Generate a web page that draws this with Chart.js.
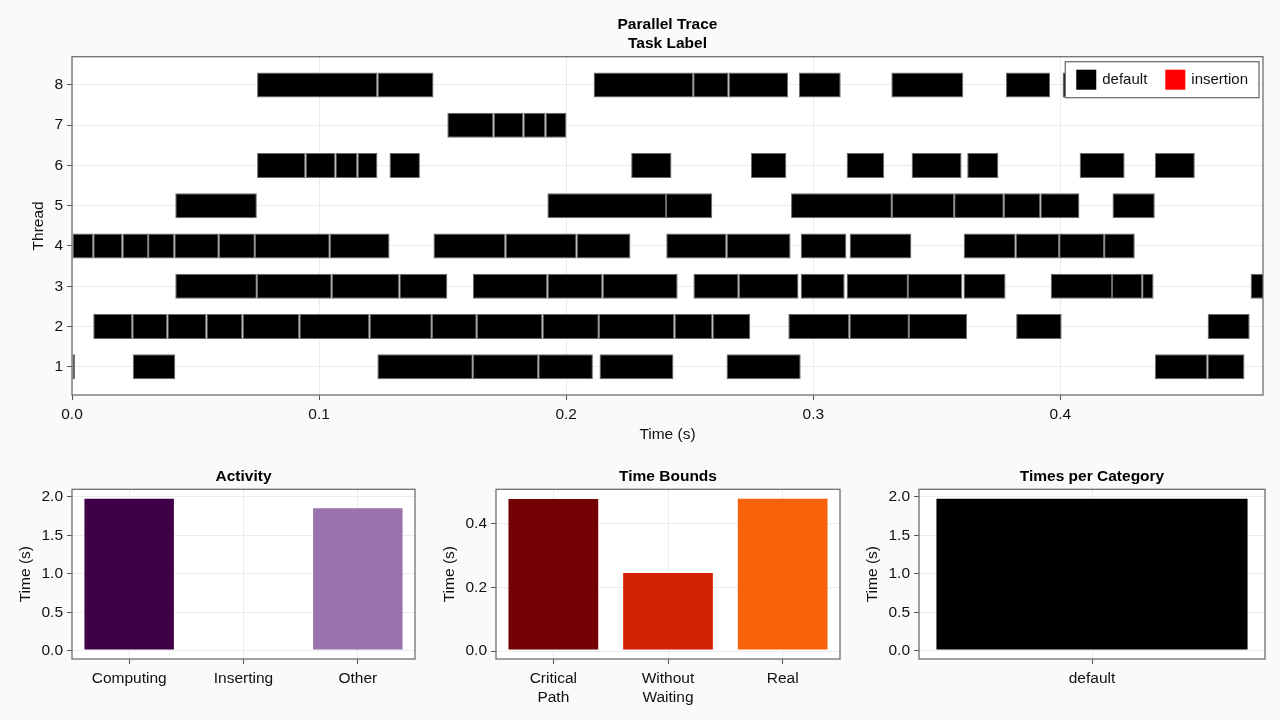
<!DOCTYPE html>
<html>
<head>
<meta charset="utf-8">
<title>Parallel Trace</title>
<script src="https://cdn.jsdelivr.net/npm/chart.js@4.4.0/dist/chart.umd.min.js"></script>
<style>
  html, body { margin: 0; padding: 0; background: #fafafa; }
  #page { position: relative; width: 1280px; height: 720px; overflow: hidden; }
  .box { position: absolute; }
</style>
</head>
<body>
<div id="page">
  <div class="box" style="left:0;top:0;width:1280px;height:455px"><canvas id="trace"></canvas></div>
  <div class="box" style="left:0;top:455px;width:430px;height:265px"><canvas id="activity"></canvas></div>
  <div class="box" style="left:424px;top:455px;width:431px;height:265px"><canvas id="bounds"></canvas></div>
  <div class="box" style="left:847px;top:455px;width:433px;height:265px"><canvas id="category"></canvas></div>
</div>
<script>
// task segments per thread, [start, end] in seconds
var thread1 = [[0, 0.0012], [0.0246, 0.0418], [0.1236, 0.1622], [0.1622, 0.1887], [0.1887, 0.2108],
	[0.2135, 0.2434], [0.2649, 0.2949], [0.4383, 0.4595], [0.4595, 0.4745]];
var thread2 = [[0.0086, 0.0244], [0.0244, 0.0386], [0.0386, 0.0544], [0.0544, 0.069], [0.069, 0.092],
	[0.092, 0.1204], [0.1204, 0.1456], [0.1456, 0.1638], [0.1638, 0.1904], [0.1904, 0.2132],
	[0.2132, 0.2438], [0.2438, 0.2592], [0.2592, 0.2745], [0.2899, 0.3146], [0.3146, 0.3387],
	[0.3387, 0.3622], [0.3821, 0.4005], [0.4596, 0.4766]];
var thread3 = [[0.0418, 0.0748], [0.0748, 0.1051], [0.1051, 0.1325], [0.1325, 0.1519], [0.1622, 0.1924],
	[0.1924, 0.2147], [0.2147, 0.2451], [0.2515, 0.2698], [0.2698, 0.294], [0.2949, 0.3127],
	[0.3135, 0.3383], [0.3383, 0.3603], [0.3608, 0.3778], [0.3961, 0.4209], [0.4209, 0.4331],
	[0.4331, 0.4377], [0.477, 0.49]];
var thread4 = [[0, 0.0086], [0.0086, 0.0204], [0.0204, 0.0308], [0.0308, 0.0414], [0.0414, 0.0594],
	[0.0594, 0.074], [0.074, 0.1043], [0.1043, 0.1285], [0.1463, 0.1754], [0.1754, 0.2042],
	[0.2042, 0.226], [0.2405, 0.2649], [0.2649, 0.2908], [0.2949, 0.3134], [0.3147, 0.3397],
	[0.3609, 0.3819], [0.3819, 0.3995], [0.3995, 0.4177], [0.4177, 0.4301]];
var thread5 = [[0.0418, 0.0748], [0.1924, 0.2404], [0.2404, 0.2591], [0.291, 0.3318], [0.3318, 0.357],
	[0.357, 0.3771], [0.3771, 0.3919], [0.3919, 0.4077], [0.4211, 0.4382]];
var thread6 = [[0.0749, 0.0945], [0.0945, 0.1066], [0.1066, 0.1155], [0.1155, 0.1236], [0.1285, 0.1408],
	[0.2263, 0.2426], [0.2748, 0.2891], [0.3135, 0.3287], [0.3398, 0.36], [0.3623, 0.3749],
	[0.4078, 0.426], [0.4383, 0.4544]];
var thread7 = [[0.1519, 0.1706], [0.1706, 0.1827], [0.1827, 0.1916], [0.1916, 0.2001]];
var thread8 = [[0.0749, 0.1236], [0.1236, 0.1463], [0.2111, 0.2514], [0.2514, 0.2657], [0.2657, 0.2898],
	[0.2942, 0.3111], [0.3316, 0.3607], [0.378, 0.3958], [0.4009, 0.42]];
var threads = [thread1, thread2, thread3, thread4, thread5, thread6, thread7, thread8];
var threadTicks = [1, 2, 3, 4, 5, 6, 7, 8];
var timeTicks = [0, 0.1, 0.2, 0.3, 0.4];

var activityLabels = ["Computing", "Inserting", "Other"];
var activityValues = [1.99, 0, 1.866];
var boundLabels = [["Critical", "Path"], ["Without", "Waiting"], "Real"];
var boundValues = [0.4807, 0.248, 0.4816];
var categoryLabels = ["default"];
var categoryValues = [1.99];
var secondsTicks = [0, 0.5, 1, 1.5, 2];
var boundTicks = [0, 0.2, 0.4];

var FONT = '"Liberation Sans", Arial, sans-serif';
var SPINE = "#6f6f6f";
var GRID = "#ebebeb";

Chart.defaults.font.family = FONT;
Chart.defaults.font.size = 15.5;
Chart.defaults.color = "#111";
Chart.defaults.animation = false;
Chart.defaults.plugins.legend.display = false;
Chart.defaults.plugins.tooltip.enabled = false;

// white plot background and a full box around it
var frame = {
	id: "frame",
	beforeDraw: function (chart) {
		var a = chart.chartArea;
		chart.ctx.save();
		chart.ctx.fillStyle = "#fff";
		chart.ctx.fillRect(a.left, a.top, a.right - a.left, a.bottom - a.top);
		chart.ctx.restore();
	},
	afterDatasetsDraw: function (chart) {
		var a = chart.chartArea;
		var ctx = chart.ctx;
		ctx.save();
		ctx.strokeStyle = SPINE;
		ctx.lineWidth = 1.3;
		ctx.strokeRect(a.left, a.top, a.right - a.left, a.bottom - a.top);
		ctx.restore();
	},
};

// boxed legend sitting over the bars, top right of the plot
var boxLegend = {
	id: "boxLegend",
	afterDatasetsDraw: function (chart) {
		var ctx = chart.ctx;
		var a = chart.chartArea;
		var sets = chart.data.datasets;
		ctx.save();
		ctx.font = "15px " + FONT;
		var widths = sets.map(function (d) { return ctx.measureText(d.label).width; });
		var w = 22 + sets.length * 26 + (sets.length - 1) * 18;
		widths.forEach(function (v) { w += v; });
		var top = a.top + 5;
		var x = a.right - 4 - w;
		ctx.fillStyle = "#fff";
		ctx.fillRect(x, top, w, 36);
		ctx.strokeStyle = SPINE;
		ctx.lineWidth = 1.3;
		ctx.strokeRect(x, top, w, 36);
		x += 11;
		ctx.textBaseline = "middle";
		sets.forEach(function (d, i) {
			ctx.fillStyle = d.backgroundColor;
			ctx.fillRect(x, top + 8, 20, 20);
			ctx.fillStyle = "#111";
			ctx.fillText(d.label, x + 26, top + 18.5);
			x += 26 + widths[i] + 18;
		});
		ctx.restore();
	},
};

function titleOpts(text, top, bottom) {
	return {
		display: true,
		text: text,
		fullSize: false,
		color: "#000",
		font: { size: 15.5, weight: "bold", lineHeight: 19 / 15.5 },
		padding: { top: top, bottom: bottom },
	};
}

function valueAxis(min, max, ticks, digits, label, titlePad) {
	return {
		type: "linear",
		min: min,
		max: max,
		offset: false,
		afterBuildTicks: function (s) {
			s.ticks = ticks.map(function (v) { return { value: v }; });
		},
		afterFit: function (s) { s.width = 72; },
		ticks: {
			padding: 4,
			callback: function (v) { return digits ? v.toFixed(digits) : String(v); },
		},
		grid: { offset: false, color: GRID, tickLength: 5, tickColor: "#555" },
		border: { display: false },
		title: { display: true, text: label, padding: { top: titlePad, bottom: 0 } },
	};
}

function categoryAxis() {
	return {
		type: "category",
		offset: true,
		afterFit: function (s) { s.height = 61; },
		ticks: { padding: 5, autoSkip: false, maxRotation: 0, font: { lineHeight: 1.23 } },
		grid: { offset: false, color: GRID, tickLength: 5, tickColor: "#555" },
		border: { display: false },
	};
}

// trace
var traceData = [];
threads.forEach(function (segs, i) {
	segs.forEach(function (s) { traceData.push({ x: s, y: threadTicks[i] }); });
});

new Chart(document.getElementById("trace"), {
	type: "bar",
	data: {
		datasets: [
			{
				label: "default",
				data: traceData,
				backgroundColor: "#000",
				borderColor: "#6a6a6a",
				borderWidth: 1,
				borderSkipped: false,
				grouped: false,
				categoryPercentage: 1,
				barPercentage: 0.62,
			},
			{
				label: "insertion",
				data: [],
				backgroundColor: "#ff0000",
				grouped: false,
			},
		],
	},
	options: {
		indexAxis: "y",
		responsive: true,
		maintainAspectRatio: false,
		layout: { padding: { left: 0, right: 17, top: 0, bottom: 0 } },
		scales: {
			x: {
				type: "linear",
				min: 0,
				max: 0.482,
				afterBuildTicks: function (s) {
					s.ticks = timeTicks.map(function (v) { return { value: v }; });
				},
				afterFit: function (s) { s.height = 60; },
				ticks: { padding: 5, callback: function (v) { return v.toFixed(1); } },
				grid: { color: GRID, tickLength: 5, tickColor: "#555" },
				border: { display: false },
				title: { display: true, text: "Time (s)", padding: { top: 0, bottom: 11 } },
			},
			y: valueAxis(0.3, 8.7, threadTicks, 0, "Thread", 29),
		},
		plugins: {
			title: titleOpts(["Parallel Trace", "Task Label"], 15.5, 3.2),
		},
	},
	plugins: [frame, boxLegend],
});

function summaryChart(id, labels, values, colors, yMin, yMax, ticks, barPct, title) {
	return new Chart(document.getElementById(id), {
		type: "bar",
		data: {
			labels: labels,
			datasets: [
				{
					data: values,
					backgroundColor: colors,
					borderColor: "rgba(255,255,255,0.6)",
					borderWidth: 1,
					borderSkipped: false,
					categoryPercentage: 1,
					barPercentage: barPct,
				},
			],
		},
		options: {
			responsive: true,
			maintainAspectRatio: false,
			layout: { padding: { left: 0, right: 15, top: 0, bottom: 0 } },
			scales: {
				x: categoryAxis(),
				y: valueAxis(yMin, yMax, ticks, 1, "Time (s)", 16),
			},
			plugins: { title: titleOpts(title, 12.5, 2.8) },
		},
		plugins: [frame],
	});
}

summaryChart("activity", activityLabels, activityValues, ["#3f0047", "#6a2c7a", "#9a73ac"],
	-0.105, 2.1, secondsTicks, 0.8, "Activity");
summaryChart("bounds", boundLabels, boundValues, ["#730003", "#d12100", "#f7620b"],
	-0.025, 0.508, boundTicks, 0.8, "Time Bounds");
summaryChart("category", categoryLabels, categoryValues, ["#000"],
	-0.105, 2.1, secondsTicks, 0.905, "Times per Category");
</script>
</body>
</html>
